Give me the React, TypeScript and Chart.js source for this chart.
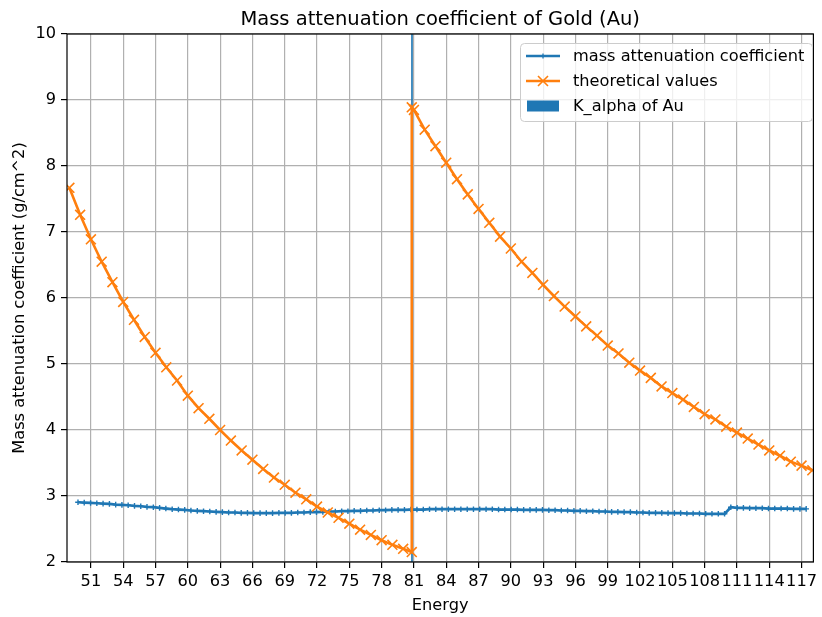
import React, { useEffect, useRef } from "react";
import { Chart, registerables } from "chart.js";

Chart.register(...registerables);

const TITLE = "Mass attenuation coefficient of Gold (Au)";
const X_LABEL = "Energy";
const Y_LABEL = "Mass attenuation coefficient (g/cm^2)";
const LEGEND_LABELS = ["mass attenuation coefficient", "theoretical values", "K_alpha of Au"];

const xTicks = [51, 54, 57, 60, 63, 66, 69, 72, 75, 78, 81, 84, 87, 90, 93, 96, 99, 102, 105, 108, 111, 114, 117];
const yTicks = [2, 3, 4, 5, 6, 7, 8, 9, 10];

// measured mass attenuation coefficient
const measuredEnergy = [
  49.80, 50.38, 50.97, 51.55, 52.13, 52.72, 53.30, 53.88, 54.46, 55.05,
  55.63, 56.21, 56.80, 57.38, 57.96, 58.55, 59.13, 59.71, 60.29, 60.88,
  61.46, 62.04, 62.63, 63.21, 63.79, 64.38, 64.96, 65.54, 66.12, 66.71,
  67.29, 67.87, 68.46, 69.04, 69.62, 70.21, 70.79, 71.37, 71.95, 72.54,
  73.12, 73.70, 74.29, 74.87, 75.45, 76.04, 76.62, 77.20, 77.78, 78.37,
  78.95, 79.53, 80.12, 80.70, 81.28, 81.87, 82.45, 83.03, 83.61, 84.20,
  84.78, 85.36, 85.95, 86.53, 87.11, 87.70, 88.28, 88.86, 89.44, 90.03,
  90.61, 91.19, 91.78, 92.36, 92.94, 93.53, 94.11, 94.69, 95.27, 95.86,
  96.44, 97.02, 97.61, 98.19, 98.77, 99.36, 99.94, 100.52, 101.10, 101.69,
  102.27, 102.85, 103.44, 104.02, 104.60, 105.19, 105.77, 106.35, 106.93, 107.52,
  108.10, 108.68, 109.27, 109.85, 110.43, 111.02, 111.60, 112.18, 112.76, 113.35,
  113.93, 114.51, 115.10, 115.68, 116.26, 116.85, 117.43,
];
const measuredValues = [
  2.905, 2.900, 2.895, 2.890, 2.885, 2.880, 2.870, 2.865, 2.860, 2.850,
  2.845, 2.835, 2.830, 2.820, 2.810, 2.800, 2.795, 2.790, 2.780, 2.775,
  2.770, 2.765, 2.760, 2.755, 2.750, 2.750, 2.745, 2.745, 2.740, 2.740,
  2.740, 2.740, 2.745, 2.745, 2.745, 2.750, 2.750, 2.755, 2.755, 2.760,
  2.765, 2.765, 2.770, 2.770, 2.775, 2.775, 2.780, 2.780, 2.785, 2.785,
  2.790, 2.790, 2.790, 2.795, 2.795, 2.795, 2.800, 2.800, 2.800, 2.800,
  2.800, 2.800, 2.800, 2.800, 2.800, 2.800, 2.800, 2.795, 2.795, 2.795,
  2.795, 2.790, 2.790, 2.790, 2.790, 2.785, 2.785, 2.780, 2.780, 2.775,
  2.775, 2.770, 2.770, 2.765, 2.765, 2.760, 2.760, 2.755, 2.755, 2.750,
  2.750, 2.745, 2.745, 2.745, 2.740, 2.740, 2.740, 2.735, 2.735, 2.735,
  2.730, 2.730, 2.730, 2.730, 2.830, 2.820, 2.820, 2.815, 2.815, 2.815,
  2.810, 2.810, 2.810, 2.810, 2.805, 2.805, 2.805,
];

// theoretical values
const theoryEnergy = [
  49, 50, 51, 52, 53, 54, 55, 56, 57, 58, 59, 60, 61, 62, 63, 64, 65, 66, 67, 68,
  69, 70, 71, 72, 73, 74, 75, 76, 77, 78, 79, 80, 80.8, 80.8,
  81, 82, 83, 84, 85, 86, 87, 88, 89, 90, 91, 92, 93, 94, 95, 96, 97, 98, 99, 100,
  101, 102, 103, 104, 105, 106, 107, 108, 109, 110, 111, 112, 113, 114, 115, 116, 117, 118,
];
const theoryValues = [
  7.67, 7.26, 6.89, 6.55, 6.24, 5.94, 5.67, 5.41, 5.17, 4.95, 4.75, 4.52, 4.33, 4.17, 4.00, 3.84, 3.69, 3.55, 3.41, 3.28,
  3.17, 3.05, 2.95, 2.84, 2.75, 2.67, 2.58, 2.49, 2.41, 2.33, 2.26, 2.20, 2.15, 8.89,
  8.85, 8.55, 8.30, 8.05, 7.80, 7.57, 7.35, 7.14, 6.93, 6.75, 6.55, 6.38, 6.20, 6.03, 5.87, 5.72, 5.57, 5.43, 5.28, 5.16,
  5.02, 4.90, 4.79, 4.66, 4.56, 4.46, 4.35, 4.24, 4.16, 4.05, 3.96, 3.87, 3.78, 3.69, 3.61, 3.52, 3.46, 3.39,
];

// K_alpha marker bar
const kAlphaEnergy = [80.82];
const kAlphaHeight = [10];

const X_MIN = 48.78;
const X_MAX = 118.1;
const Y_MIN = 2;
const Y_MAX = 10;

const BLUE = "#1f77b4";
const ORANGE = "#ff7f0e";
const FONT = "'DejaVu Sans', sans-serif";

const overlayPlugin = {
  id: "overlay",
  afterDraw(chart: any) {
    const ctx = chart.ctx as CanvasRenderingContext2D;
    const a = chart.chartArea;
    ctx.save();
    // spines
    ctx.strokeStyle = "#000";
    ctx.lineWidth = 1.2;
    ctx.strokeRect(a.left, a.top, a.right - a.left, a.bottom - a.top);

    // title
    ctx.fillStyle = "#000";
    ctx.textAlign = "center";
    ctx.textBaseline = "alphabetic";
    ctx.font = `19.5px ${FONT}`;
    ctx.fillText(TITLE, (a.left + a.right) / 2, 25);

    // x label
    ctx.font = `16.2px ${FONT}`;
    ctx.fillText(X_LABEL, (a.left + a.right) / 2, 609.5);

    // y label
    ctx.save();
    ctx.translate(20, (a.top + a.bottom) / 2);
    ctx.rotate(-Math.PI / 2);
    ctx.textBaseline = "middle";
    ctx.fillText(Y_LABEL, 0, 0);
    ctx.restore();

    // legend
    const bx = 520, by = 43, bw = 292, bh = 78;
    ctx.beginPath();
    (ctx as any).roundRect(bx + 0.5, by + 0.5, bw, bh, 4);
    ctx.fillStyle = "rgba(255,255,255,0.8)";
    ctx.fill();
    ctx.strokeStyle = "#cccccc";
    ctx.lineWidth = 1;
    ctx.stroke();

    const rows = [56, 81, 106];
    const hx0 = 526, hx1 = 560, hc = 543;
    // row 1: blue line with small + marker
    ctx.strokeStyle = BLUE;
    ctx.lineWidth = 2.6;
    ctx.beginPath();
    ctx.moveTo(hx0, rows[0]);
    ctx.lineTo(hx1, rows[0]);
    ctx.stroke();
    ctx.lineWidth = 1.3;
    ctx.beginPath();
    ctx.moveTo(hc, rows[0] - 2.5);
    ctx.lineTo(hc, rows[0] + 2.5);
    ctx.stroke();
    // row 2: orange line with x marker
    ctx.strokeStyle = ORANGE;
    ctx.lineWidth = 2.6;
    ctx.beginPath();
    ctx.moveTo(hx0, rows[1]);
    ctx.lineTo(hx1, rows[1]);
    ctx.stroke();
    ctx.lineWidth = 1.6;
    ctx.beginPath();
    ctx.moveTo(hc - 5, rows[1] - 5);
    ctx.lineTo(hc + 5, rows[1] + 5);
    ctx.moveTo(hc - 5, rows[1] + 5);
    ctx.lineTo(hc + 5, rows[1] - 5);
    ctx.stroke();
    // row 3: filled box
    ctx.fillStyle = BLUE;
    ctx.fillRect(527, 100.5, 32, 11);

    ctx.fillStyle = "#000";
    ctx.textAlign = "left";
    ctx.textBaseline = "middle";
    ctx.font = `16.2px ${FONT}`;
    LEGEND_LABELS.forEach((t, i) => ctx.fillText(t, 573, rows[i] + 1));
    ctx.restore();
  },
};

export default function App() {
  const canvasRef = useRef<HTMLCanvasElement | null>(null);

  useEffect(() => {
    if (!canvasRef.current) return;
    const chart = new Chart(canvasRef.current, {
      type: "scatter",
      data: {
        datasets: [
          {
            type: "line",
            label: LEGEND_LABELS[1],
            data: theoryEnergy.map((x, i) => ({ x, y: theoryValues[i] })),
            borderColor: ORANGE,
            backgroundColor: ORANGE,
            borderWidth: 2.6,
            pointStyle: "crossRot",
            pointRadius: 7,
            pointBorderWidth: 1.6,
            pointBorderColor: ORANGE,
            showLine: true,
            tension: 0,
            clip: 0,
            order: 0,
          } as any,
          {
            type: "line",
            label: LEGEND_LABELS[0],
            data: measuredEnergy.map((x, i) => ({ x, y: measuredValues[i] })),
            borderColor: BLUE,
            backgroundColor: BLUE,
            borderWidth: 2.7,
            pointStyle: "cross",
            pointRadius: 2.8,
            pointBorderWidth: 1.4,
            pointBorderColor: BLUE,
            showLine: true,
            tension: 0,
            clip: 0,
            order: 1,
          } as any,
          {
            type: "bar",
            label: LEGEND_LABELS[2],
            data: kAlphaEnergy.map((x, i) => ({ x, y: kAlphaHeight[i] })),
            backgroundColor: BLUE,
            borderWidth: 0,
            barThickness: 1,
            clip: 0,
            order: 2,
          } as any,
        ],
      },
      options: {
        animation: false,
        responsive: false,
        devicePixelRatio: 1,
        layout: { padding: { top: 34, right: 4, left: 0, bottom: 0 } },
        plugins: {
          legend: { display: false },
          title: { display: false },
          tooltip: { enabled: false },
        },
        scales: {
          x: {
            type: "linear",
            min: X_MIN,
            max: X_MAX,
            offset: false,
            afterBuildTicks: (s: any) => {
              s.ticks = xTicks.map((v) => ({ value: v }));
            },
            afterFit: (s: any) => {
              s.height = 55;
            },
            grid: {
              color: "#b0b0b0",
              lineWidth: 1.2,
              tickColor: "#000",
              tickLength: 6,
              drawTicks: true,
              offset: false,
            },
            border: { display: false },
            ticks: {
              color: "#000",
              font: { family: "DejaVu Sans", size: 16.2 },
              padding: 4,
              maxRotation: 0,
              autoSkip: false,
              callback: (v: any) => String(v),
            },
          },
          y: {
            type: "linear",
            min: Y_MIN,
            max: Y_MAX,
            afterBuildTicks: (s: any) => {
              s.ticks = yTicks.map((v) => ({ value: v }));
            },
            afterFit: (s: any) => {
              s.width = 67;
            },
            grid: {
              color: "#b0b0b0",
              lineWidth: 1.2,
              tickColor: "#000",
              tickLength: 6,
              drawTicks: true,
            },
            border: { display: false },
            ticks: {
              color: "#000",
              font: { family: "DejaVu Sans", size: 16.2 },
              padding: 5,
              autoSkip: false,
              callback: (v: any) => String(v),
            },
          },
        },
      },
      plugins: [overlayPlugin],
    } as any);
    return () => chart.destroy();
  }, []);

  return (
    <div style={{ position: "absolute", left: 0, top: 0, width: 822, height: 617, background: "#fff" }}>
      <canvas ref={canvasRef} width={822} height={617} style={{ width: 822, height: 617, display: "block" }} />
    </div>
  );
}
